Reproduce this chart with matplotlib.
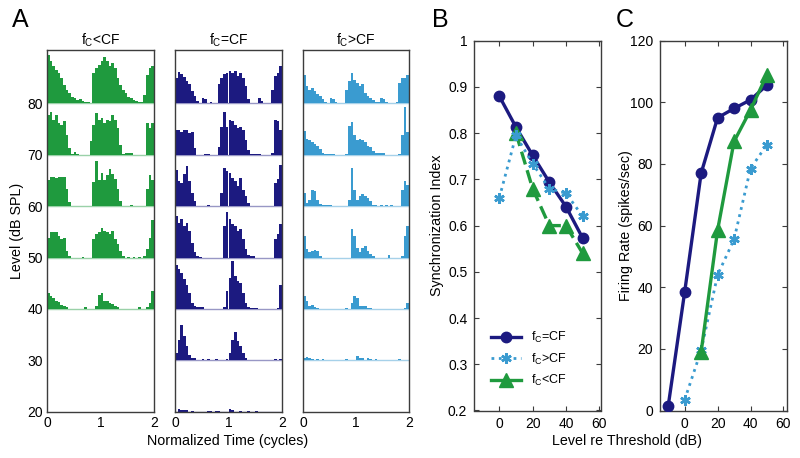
import numpy as np
import matplotlib
matplotlib.use('Agg')
import matplotlib.pyplot as plt

plt.rcParams['font.family'] = ['Liberation Sans', 'DejaVu Sans']
plt.rcParams['mathtext.fontset'] = 'custom'
plt.rcParams['mathtext.rm'] = 'Liberation Sans'
plt.rcParams['mathtext.default'] = 'regular'

green = '#1f9a3e'
navy = '#1c1a80'
lblue = '#3a9bd0'
frame = '#3c3c3c'

# ---- panel A: period histograms (bar heights in dB-units above each level)
# fc < CF
lt_80 = [9.4, 8.2, 7.2, 6.5, 6.0, 4.9, 3.6, 2.6, 2.0, 1.3, 1.0, 0.7, 0.8, 0.5, 0.3, 0.2, 0.1, 6.0, 6.9, 7.5,
         8.2, 9.1, 8.2, 7.2, 7.8, 6.9, 4.9, 3.6, 2.6, 2.0, 1.3, 1.0, 0.7, 0.5, 0.3, 0.2, 1.7, 5.5, 6.9, 7.2]
lt_70 = [7.8, 8.4, 6.8, 7.8, 6.2, 5.8, 6.5, 3.9, 1.3, 0.1, 0.5, 0.1, 0, 0, 0, 0, 2.6, 5.8, 8.1, 6.8,
         7.1, 6.2, 6.8, 6.5, 7.8, 6.8, 5.2, 1.9, 0.1, 0.3, 0.3, 0.3, 0, 0, 0, 0, 0, 6.2, 5.2, 6.2]
lt_60 = [5.0, 5.6, 5.6, 5.5, 5.6, 5.6, 5.6, 3.4, 0.8, 0, 0, 0, 0, 0, 0, 0, 0, 4.7, 8.8, 5.0,
         6.5, 5.0, 6.0, 7.3, 6.3, 5.3, 3.4, 1.1, 0, 0, 0, 0.3, 0, 0, 0, 0, 0, 3.4, 6.0, 5.0]
lt_50 = [3.9, 4.9, 5.0, 4.9, 4.2, 3.6, 3.9, 1.3, 0.3, 0, 0, 0, 0, 0.2, 0, 0, 0, 3.6, 4.5, 4.9,
         5.8, 5.2, 4.9, 4.5, 5.2, 3.6, 2.6, 1.3, 0.3, 0, 0.2, 0, 0.2, 0, 0.2, 0, 0.3, 1.6, 3.9, 7.4]
lt_40 = [3.2, 2.5, 2.1, 1.5, 1.3, 0.8, 0.5, 0.3, 0, 0, 0, 0, 0, 0, 0.3, 0, 0, 0, 0.5, 2.8,
         3.2, 1.5, 1.5, 1.2, 1.0, 0.5, 0.3, 0, 0, 0, 0, 0, 0, 0, 0.3, 0, 0, 0.3, 1.2, 3.4]

# fc = CF
eq_80 = [5.0, 6.2, 5.7, 5.1, 4.4, 3.7, 2.4, 1.4, 0.5, 0.1, 1.1, 0.8, 0.1, 0.3, 0, 0, 3.7, 5.0, 5.7, 6.0,
         6.3, 6.0, 6.3, 5.3, 6.0, 5.0, 3.4, 0.8, 0.1, 0, 0, 1.1, 0.5, 0, 0, 0, 2.7, 5.3, 6.0, 7.3]
eq_70 = [4.9, 4.9, 4.5, 4.9, 4.9, 4.2, 4.5, 1.3, 0, 0, 0, 0.2, 0.2, 0, 0, 0, 1.6, 5.5, 8.4, 5.5,
         6.8, 6.5, 5.8, 5.2, 5.5, 4.9, 2.9, 1.0, 0.2, 0.2, 0.2, 0.2, 0, 0, 0, 0, 0.3, 6.8, 6.5, 4.9]
eq_60 = [7.1, 4.9, 4.5, 6.2, 7.8, 4.9, 2.6, 1.0, 0, 0, 0, 0, 0.3, 0, 0, 0, 0, 2.6, 7.5, 6.8,
         6.5, 5.5, 4.9, 3.9, 5.5, 3.2, 1.9, 0.6, 0, 0, 0, 0, 0, 0, 0, 0, 0, 4.5, 5.2, 8.1]
eq_50 = [8.1, 6.8, 7.5, 6.2, 6.8, 5.2, 2.9, 1.0, 0.3, 0.2, 0, 0, 0, 0, 0, 0, 0, 0, 6.2, 8.8,
         7.5, 6.5, 6.2, 5.2, 5.5, 3.6, 1.6, 0.5, 0.3, 0.3, 0, 0, 0, 0, 0, 0, 0, 3.6, 4.5, 6.5]
eq_40 = [8.6, 7.7, 7.0, 5.8, 4.7, 3.1, 1.2, 0.5, 0.3, 0.3, 0.3, 0, 0, 0, 0, 0, 0, 0, 0.3, 3.4,
         6.0, 9.3, 6.4, 5.4, 5.1, 3.1, 1.2, 0.3, 0.2, 0.2, 0.2, 0, 0, 0, 0, 0, 0, 0, 0.2, 4.7]
eq_30 = [1.4, 4.0, 6.9, 4.7, 2.7, 1.1, 0.5, 0.5, 0, 0, 0.2, 0, 0.2, 0, 0, 0.2, 0, 0, 0, 0.3,
         1.4, 4.0, 5.6, 3.7, 2.7, 1.4, 0.5, 0, 0, 0, 0, 0, 0, 0, 0, 0, 0, 0.2, 0, 0.2]
eq_20 = [0, 0.5, 0.4, 0.3, 0.3, 0, 0.2, 0, 0, 0, 0, 0, 0.2, 0.2, 0, 0.2, 0.2, 0, 0, 0,
         0.5, 0.3, 0, 0, 0.2, 0, 0, 0.2, 0, 0, 0.2, 0, 0, 0, 0, 0, 0, 0, 0, 0]

# fc > CF
gt_80 = [5.6, 3.4, 2.7, 3.1, 2.4, 1.8, 1.4, 0.8, 0.3, 0.1, 1.1, 0.8, 0.3, 0, 0, 0, 2.7, 4.3, 5.9, 4.6,
         4.0, 3.4, 3.7, 2.1, 1.4, 1.1, 0.6, 0.2, 0.2, 1.1, 0.8, 0.3, 0, 0, 0, 0.3, 4.0, 5.0, 5.0, 5.6]
gt_70 = [4.7, 3.1, 2.8, 2.5, 2.1, 1.8, 1.2, 0.4, 0.2, 0.2, 0.2, 0.2, 0, 0, 0, 0, 0.2, 5.7, 6.4, 3.8,
         2.8, 3.1, 2.8, 2.5, 1.8, 1.5, 0.8, 0.4, 0.3, 0.3, 0.3, 0, 0, 0, 0, 0, 0.2, 3.8, 9.3, 4.4]
gt_60 = [2.6, 0.6, 1.3, 3.2, 2.9, 1.3, 0.5, 0.3, 0.2, 0.2, 0.2, 0.1, 0.1, 0.1, 0.1, 0.1, 0.1, 1.3, 7.5, 3.2,
         1.3, 1.9, 2.3, 1.9, 1.6, 1.0, 0.3, 0.2, 0, 0.2, 0, 0.2, 0, 0.2, 0, 0, 0, 3.2, 4.9, 4.2]
gt_50 = [4.2, 1.6, 1.0, 1.3, 1.5, 1.3, 0.3, 0, 0, 0, 0, 0, 0, 0, 0, 0, 0, 0, 5.5, 4.2,
         1.9, 1.0, 1.9, 2.3, 1.3, 0.6, 0.3, 0, 0, 0, 0, 0, 0.5, 0, 0, 0, 0, 0.3, 4.2, 6.2]
gt_40 = [2.5, 1.5, 0.5, 0.8, 0.4, 0.2, 0, 0, 0, 0, 0, 0, 0, 0, 0, 0, 0.2, 0, 1.2, 2.5,
         2.1, 0.5, 0.6, 0.5, 0.2, 0.2, 0, 0, 0, 0, 0, 0, 0, 0, 0, 0, 0, 0, 0.2, 1.2]
gt_30 = [0.5, 0.7, 0.4, 0.3, 0, 0.3, 0, 0.3, 0, 0, 0, 0, 0, 0, 0, 0, 0.2, 0, 0, 0,
         0.8, 0.5, 0.4, 0, 0.4, 0.3, 0, 0.2, 0, 0, 0, 0, 0, 0, 0, 0, 0.3, 0, 0, 0]

lt_rows = {80: lt_80, 70: lt_70, 60: lt_60, 50: lt_50, 40: lt_40}
eq_rows = {80: eq_80, 70: eq_70, 60: eq_60, 50: eq_50, 40: eq_40, 30: eq_30, 20: eq_20}
gt_rows = {80: gt_80, 70: gt_70, 60: gt_60, 50: gt_50, 40: gt_40, 30: gt_30}

levels_ticks = [20, 30, 40, 50, 60, 70, 80]

# ---- panel B: synchronization index
sync_x_eq = [0, 10, 20, 30, 40, 50]
sync_eq = [0.88, 0.813, 0.752, 0.694, 0.641, 0.573]
sync_x_gt = [0, 10, 20, 30, 40, 50]
sync_gt = [0.66, 0.795, 0.734, 0.68, 0.67, 0.62]
sync_x_lt = [10, 20, 30, 40, 50]
sync_lt = [0.80, 0.68, 0.60, 0.60, 0.54]

# ---- panel C: firing rate
rate_x_eq = [-10, 0, 10, 20, 30, 40, 50]
rate_eq = [1.5, 38.5, 77, 95, 98, 100.8, 105.6]
rate_x_gt = [0, 10, 20, 30, 40, 50]
rate_gt = [3.5, 19.5, 44, 55.5, 78.5, 86.3]
rate_x_lt = [10, 20, 30, 40, 50]
rate_lt = [19, 58.5, 87.3, 97.5, 109]

fig = plt.figure(figsize=(8, 4.58), dpi=100)
W, H = 800.0, 458.0
TICK_FS = 10
LAB_FS = 10.3


def add_ax(left, top, right, bottom):
    return fig.add_axes([left / W, 1 - bottom / H, (right - left) / W, (bottom - top) / H])


def style_frame(ax):
    for s in ax.spines.values():
        s.set_color(frame)
        s.set_linewidth(1.0)


bin_left = np.arange(40) * 0.05
hist_specs = [
    (47, 154, lt_rows, green, r'f$_{C}$<CF'),
    (175, 282, eq_rows, navy, r'f$_{C}$=CF'),
    (303, 409, gt_rows, lblue, r'f$_{C}$>CF'),
]
for i, (l, r, rows, col, title) in enumerate(hist_specs):
    ax = add_ax(l, 50, r, 411.7)
    for lev, vals in rows.items():
        ax.hlines(lev, 0, 2, color=col, alpha=0.45, lw=1.0, zorder=1)
        ax.bar(bin_left, vals, width=0.05, bottom=lev, align='edge',
               color=col, linewidth=0, zorder=2)
    ax.set_xlim(0, 2)
    ax.set_ylim(20, 90.4)
    ax.set_xticks([0, 1, 2])
    ax.set_yticks(levels_ticks)
    ax.tick_params(length=0, labelsize=TICK_FS, pad=3)
    if i > 0:
        ax.set_yticklabels([])
    else:
        ax.set_ylabel('Level (dB SPL)', fontsize=LAB_FS)
        ax.yaxis.set_label_coords(-0.215, 0.5)
    ax.set_title(title, fontsize=10, pad=4)
    style_frame(ax)

fig.text(228 / W, 1 - 441 / H, 'Normalized Time (cycles)', ha='center', va='center', fontsize=LAB_FS)

# panel B
axb = add_ax(474.3, 40.7, 601, 410.5)
axb.plot(sync_x_eq, sync_eq, '-o', color=navy, lw=2.4, ms=7.5, zorder=3)
axb.plot(sync_x_lt, sync_lt, '--^', color=green, lw=2.4, ms=9.5, dashes=(4, 1.8), zorder=4)
axb.plot(sync_x_gt, sync_gt, ':', marker=(6, 2, 0), color=lblue, lw=2.0, ms=7.5, mew=1.8, zorder=5)
axb.set_xlim(-15, 61)
axb.set_ylim(0.2, 1.0)
axb.set_xticks([0, 20, 40, 60])
axb.set_yticks([0.2, 0.3, 0.4, 0.5, 0.6, 0.7, 0.8, 0.9, 1.0])
axb.set_yticklabels(['0.2', '0.3', '0.4', '0.5', '0.6', '0.7', '0.8', '0.9', '1'])
axb.tick_params(direction='in', top=True, right=True, length=3.5, labelsize=TICK_FS, pad=5, color=frame)
axb.set_ylabel('Synchronization Index', fontsize=LAB_FS)
axb.yaxis.set_label_coords(-0.24, 0.5)
style_frame(axb)

# panel C
axc = add_ax(660, 40.7, 786.7, 410.5)
h_eq, = axc.plot(rate_x_eq, rate_eq, '-o', color=navy, lw=2.4, ms=7.5, zorder=3)
h_gt, = axc.plot(rate_x_gt, rate_gt, ':', marker=(6, 2, 0), color=lblue, lw=2.0, ms=7.5, mew=1.8, zorder=4)
h_lt, = axc.plot(rate_x_lt, rate_lt, '-^', color=green, lw=2.4, ms=9.5, zorder=5)
axc.set_xlim(-15, 62)
axc.set_ylim(0, 120)
axc.set_xticks([0, 20, 40, 60])
axc.set_yticks([0, 20, 40, 60, 80, 100, 120])
axc.tick_params(direction='in', top=True, right=True, length=3.5, labelsize=TICK_FS, pad=5, color=frame)
axc.set_ylabel('Firing Rate (spikes/sec)', fontsize=LAB_FS)
axc.yaxis.set_label_coords(-0.215, 0.5)
style_frame(axc)

axb.legend([h_eq, h_gt, h_lt], [r'f$_{C}$=CF', r'f$_{C}$>CF', r'f$_{C}$<CF'],
           loc='lower left', bbox_to_anchor=(0.04, 0.03), frameon=False,
           fontsize=9, handlelength=2.4, labelspacing=0.5, handletextpad=0.8)

fig.text(627 / W, 1 - 441 / H, 'Level re Threshold (dB)', ha='center', va='center', fontsize=LAB_FS)

fig.text(20 / W, 1 - 20 / H, 'A', ha='center', va='center', fontsize=18)
fig.text(440 / W, 1 - 20 / H, 'B', ha='center', va='center', fontsize=18)
fig.text(625 / W, 1 - 20 / H, 'C', ha='center', va='center', fontsize=18)

fig.savefig('out.png', dpi=100)
